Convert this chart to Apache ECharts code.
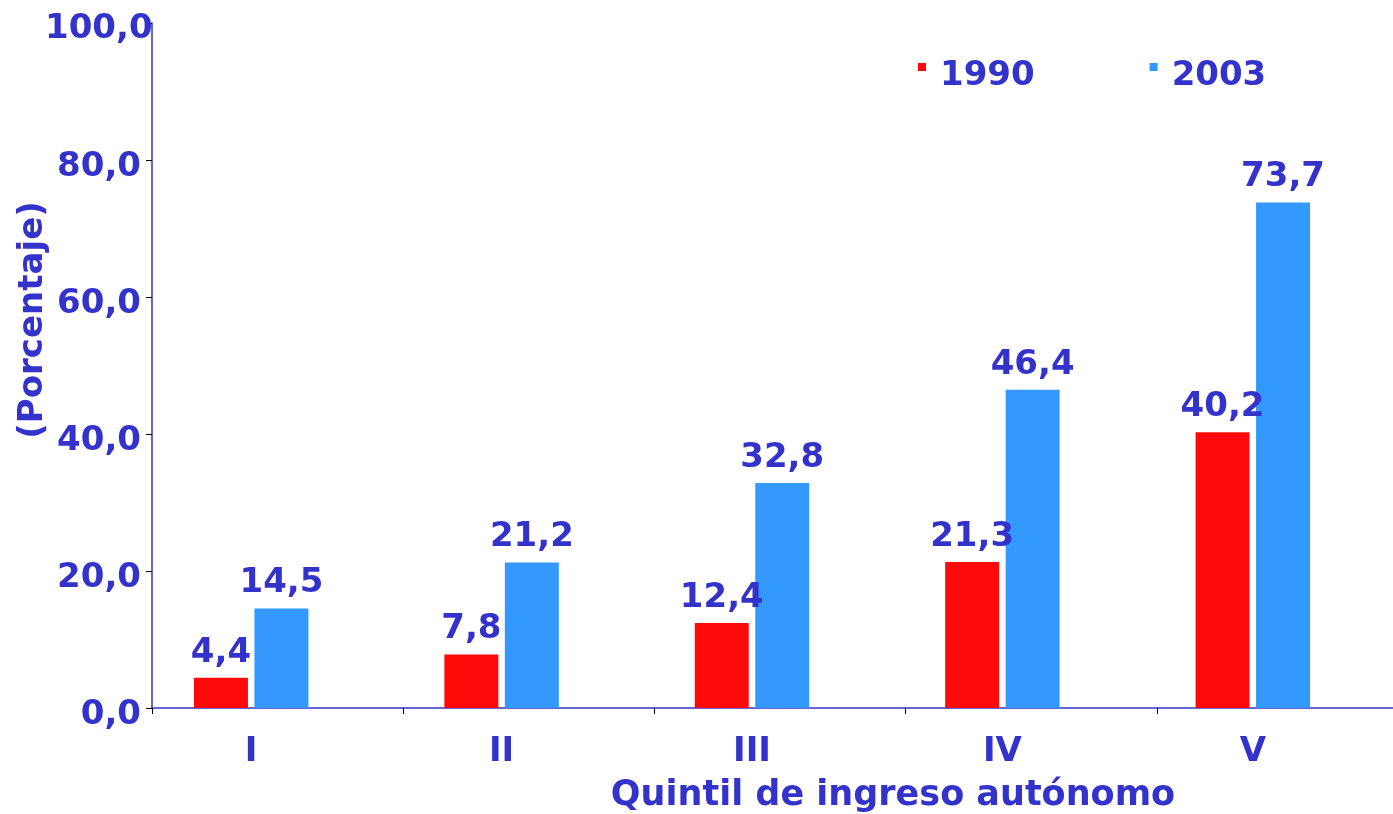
<!DOCTYPE html>
<html>
<head>
<meta charset="utf-8">
<script src="https://cdn.jsdelivr.net/npm/echarts@6/dist/echarts.min.js"></script>
<style>
html,body{margin:0;padding:0;background:#fff;}
#chart{width:1393px;height:814px;}
</style>
</head>
<body>
<div id="chart"></div>
<script>
const categories = ['I', 'II', 'III', 'IV', 'V'];
const series1990 = [4.4, 7.8, 12.4, 21.3, 40.2];
const series2003 = [14.5, 21.2, 32.8, 46.4, 73.7];
const seriesNames = ['1990', '2003'];
const yTicks = [0, 20, 40, 60, 80, 100];
const xAxisTitle = 'Quintil de ingreso autónomo';
const yAxisTitle = '(Porcentaje)';

const TXT = '#3333CC';
const FONT = 'DejaVu Sans';
const fmt = v => Number(v).toFixed(1).replace('.', ',');

const chart = echarts.init(document.getElementById('chart'), null, {renderer: 'canvas'});
const labelStyle = {
  show: true, position: 'top', distance: 8,
  color: TXT, fontFamily: FONT, fontWeight: 'bold', fontSize: 34,
  formatter: p => fmt(p.value)
};
const tickLabelRich = {
  n: {color: TXT, fontFamily: FONT, fontWeight: 'bold', fontSize: 34, lineHeight: 34, padding: [14, 0, 0, 0]},
  t: {color: TXT, fontFamily: FONT, fontWeight: 'bold', fontSize: 34, lineHeight: 34, padding: [12, 0, 0, 0], width: 96, align: 'left'}
};
chart.setOption({
  animation: false,
  backgroundColor: '#fff',
  grid: [
    {left: 152, right: 0, top: 22, bottom: 106, containLabel: false},
    {left: 126, right: 15, top: 22, bottom: 106, containLabel: false}
  ],
  legend: {
    data: seriesNames,
    left: 918, top: 59, padding: 0,
    itemWidth: 8, itemHeight: 26, itemGap: 115,
    icon: 'path://M0,0L8,0L8,8L0,8Z M0,26L0.01,26',
    textStyle: {color: TXT, fontFamily: FONT, fontWeight: 'bold', fontSize: 34, padding: [0, 0, 0, 9]}
  },
  xAxis: [
    {
      // category boundaries of the plot frame (ticks between quintiles)
      type: 'value', gridIndex: 0, min: 0, max: 4.94, interval: 1,
      splitLine: {show: false},
      axisLine: {show: true, lineStyle: {color: TXT, width: 1.5}},
      axisTick: {show: true, length: 6, lineStyle: {color: '#000', width: 1}},
      axisLabel: {show: false}
    },
    {
      type: 'category', gridIndex: 1, data: categories, boundaryGap: true,
      axisLine: {show: false}, axisTick: {show: false},
      axisLabel: {show: true, margin: 27, color: TXT, fontFamily: FONT, fontWeight: 'bold', fontSize: 34, lineHeight: 34}
    }
  ],
  yAxis: [
    {
      type: 'value', gridIndex: 0, min: 0, max: 100, interval: 20,
      splitLine: {show: false},
      axisLine: {show: true, lineStyle: {color: TXT, width: 1.5}},
      axisTick: {show: true, length: 6, lineStyle: {color: '#000', width: 1}},
      axisLabel: {show: true, margin: 11, color: TXT, fontFamily: FONT, fontWeight: 'bold', fontSize: 34,
        rich: tickLabelRich,
        formatter: v => yTicks.includes(v) ? (v === 100 ? '{t|' + fmt(v) + '}' : '{n|' + fmt(v) + '}') : ''}
    },
    {
      type: 'value', gridIndex: 1, min: 0, max: 100, interval: 20, show: false
    }
  ],
  series: [
    {
      name: seriesNames[0], type: 'bar', xAxisIndex: 1, yAxisIndex: 1,
      data: series1990, barWidth: 54, barGap: '12%',
      itemStyle: {color: '#FF0A0A'},
      label: labelStyle
    },
    {
      name: seriesNames[1], type: 'bar', xAxisIndex: 1, yAxisIndex: 1,
      data: series2003, barWidth: 54, barGap: '12%',
      itemStyle: {color: '#3399FF'},
      label: labelStyle
    }
  ],
  graphic: [
    {type: 'text', x: 893, y: 796,
      style: {text: xAxisTitle, align: 'center', verticalAlign: 'middle', fill: TXT,
        font: 'bold 35px "DejaVu Sans"'}},
    {type: 'text', x: 33, y: 320, rotation: Math.PI / 2,
      style: {text: yAxisTitle, align: 'center', verticalAlign: 'middle', fill: TXT,
        font: 'bold 34px "DejaVu Sans"'}}
  ]
});
</script>
</body>
</html>
